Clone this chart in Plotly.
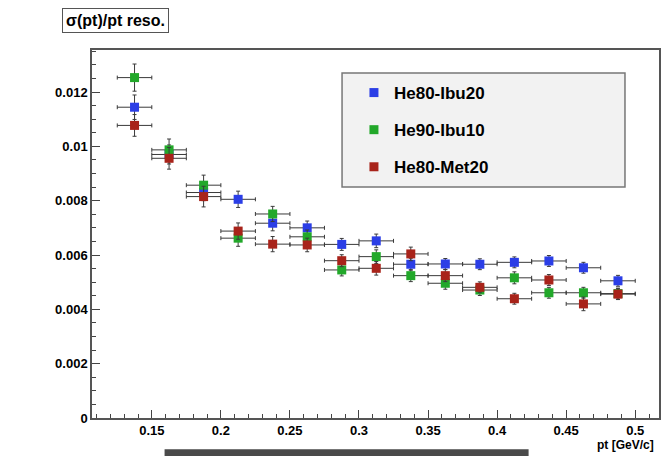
import plotly.graph_objects as go

# ---- data ----
pt = [0.1375, 0.1625, 0.1875, 0.2125, 0.2375, 0.2625, 0.2875, 0.3125,
      0.3375, 0.3625, 0.3875, 0.4125, 0.4375, 0.4625, 0.4875]
pt_halfwidth = 0.0125

series_names = ["He80-Ibu20", "He90-Ibu10", "He80-Met20"]
he80_ibu20 = [0.01144, 0.00970, 0.00830, 0.00805, 0.00717, 0.00700, 0.00639, 0.00652,
              0.00566, 0.00567, 0.00566, 0.00573, 0.00578, 0.00553, 0.00505]
he90_ibu10 = [0.01253, 0.00987, 0.00857, 0.00662, 0.00751, 0.00667, 0.00545, 0.00594,
              0.00524, 0.00496, 0.00471, 0.00516, 0.00461, 0.00461, 0.00458]
he80_met20 = [0.01077, 0.00956, 0.00815, 0.00688, 0.00640, 0.00637, 0.00579, 0.00551,
              0.00604, 0.00524, 0.00481, 0.00439, 0.00508, 0.00420, 0.00456]
err_ibu20 = [0.00045, 0.00035, 0.00030, 0.00030, 0.00028, 0.00025, 0.00022, 0.00025,
             0.00022, 0.00020, 0.00020, 0.00020, 0.00020, 0.00020, 0.00020]
err_ibu10 = [0.00050, 0.00040, 0.00037, 0.00030, 0.00028, 0.00025, 0.00022, 0.00025,
             0.00022, 0.00022, 0.00020, 0.00022, 0.00020, 0.00020, 0.00020]
err_met20 = [0.00040, 0.00040, 0.00038, 0.00030, 0.00028, 0.00025, 0.00022, 0.00025,
             0.00025, 0.00022, 0.00020, 0.00020, 0.00020, 0.00025, 0.00020]
series_values = [he80_ibu20, he90_ibu10, he80_met20]
series_errors = [err_ibu20, err_ibu10, err_met20]
series_colors = ["#2b3ee6", "#22a82a", "#a8231a"]

y_ticks = [0, 0.002, 0.004, 0.006, 0.008, 0.01, 0.012]
y_ticklabels = ["0", "0.002", "0.004", "0.006", "0.008", "0.01", "0.012"]
x_ticks = [0.15, 0.2, 0.25, 0.3, 0.35, 0.4, 0.45, 0.5]
x_ticklabels = ["0.15", "0.2", "0.25", "0.3", "0.35", "0.4", "0.45", "0.5"]

FONT = "Liberation Sans, Arial, Helvetica, sans-serif"

fig = go.Figure()
for i, (name, vals, errs, col) in enumerate(zip(series_names, series_values, series_errors, series_colors)):
    fig.add_trace(go.Scatter(
        x=pt, y=vals, name=name, mode="markers", legendgroup=f"g{i}",
        marker=dict(symbol="square", size=9, color=col),
        error_x=dict(type="constant", value=pt_halfwidth, color="#3a3a3a", thickness=1, width=2),
        error_y=dict(type="data", array=errs, color="#3a3a3a", thickness=1, width=2),
    ))

fig.update_layout(
    width=667, height=456,
    margin=dict(l=92, r=6, t=50, b=38),
    paper_bgcolor="white", plot_bgcolor="white",
    font=dict(family=FONT, color="black"),
    showlegend=True,
    legend=dict(
        x=0.462, y=0.932, xanchor="left", yanchor="top",
        bgcolor="rgba(0,0,0,0)", borderwidth=0,
        font=dict(family=FONT, size=17, color="black", weight="bold"),
        tracegroupgap=12, itemsizing="trace",
    ),
    xaxis=dict(
        range=[0.1067, 0.5172], tickvals=x_ticks, ticktext=x_ticklabels,
        ticks="inside", ticklen=8, tickcolor="#444", tickwidth=1,
        minor=dict(dtick=0.01, tick0=0.1, ticks="inside", ticklen=4, tickcolor="#444", showgrid=False),
        showgrid=False, zeroline=False,
        showline=True, linecolor="#555", linewidth=1.5, mirror=True,
        tickfont=dict(family=FONT, size=13, weight="bold"),
    ),
    yaxis=dict(
        range=[0, 0.013546], tickvals=y_ticks, ticktext=y_ticklabels,
        ticks="inside", ticklen=8, tickcolor="#444", tickwidth=1,
        minor=dict(dtick=0.0005, tick0=0, ticks="inside", ticklen=4, tickcolor="#444", showgrid=False),
        showgrid=False, zeroline=False,
        showline=True, linecolor="#555", linewidth=1.5, mirror=True,
        tickfont=dict(family=FONT, size=13, weight="bold"),
    ),
    shapes=[
        # legend box
        dict(type="rect", xref="paper", yref="paper", x0=0.441, x1=0.940, y0=0.628, y1=0.9375,
             fillcolor="#f2f2f2", line=dict(color="#777", width=1.5), layer="below"),
        # dark bar at bottom of screenshot
        dict(type="rect", xref="paper", yref="paper", x0=0.128, x1=0.770, y0=-0.105, y1=-0.085,
             fillcolor="#4a4a4a", line=dict(width=0)),
    ],
    annotations=[
        dict(text="σ(pt)/pt reso.", xref="paper", yref="paper",
             x=-0.053, y=1.045, xanchor="left", yanchor="bottom", showarrow=False,
             font=dict(family=FONT, size=16, color="black", weight="bold"),
             bgcolor="white", bordercolor="#555", borderwidth=1, borderpad=3),
        dict(text="pt [GeV/c]", xref="paper", yref="paper",
             x=0.995, y=-0.074, xanchor="right", yanchor="middle", showarrow=False,
             font=dict(family=FONT, size=12, color="black", weight="bold")),
    ],
)

fig.write_html("out.html")
